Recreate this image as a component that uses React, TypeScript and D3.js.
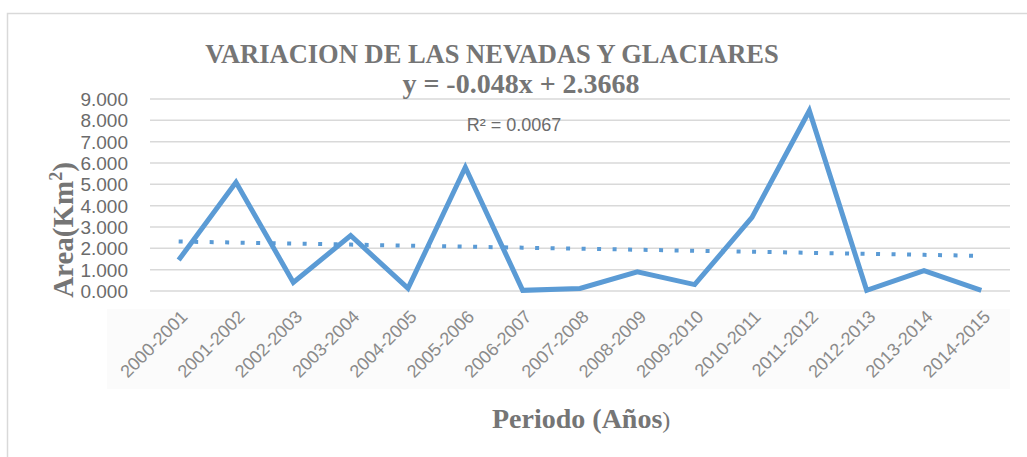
import React from "react";
import * as d3 from "d3";

const categories = [
  "2000-2001", "2001-2002", "2002-2003", "2003-2004", "2004-2005",
  "2005-2006", "2006-2007", "2007-2008", "2008-2009", "2009-2010",
  "2010-2011", "2011-2012", "2012-2013", "2013-2014", "2014-2015",
];
const areaValues = [1.45, 5.1, 0.4, 2.6, 0.12, 5.8, 0.03, 0.12, 0.9, 0.3, 3.45, 8.45, 0.03, 0.95, 0.03];
const yTicks = [0, 1, 2, 3, 4, 5, 6, 7, 8, 9];
const trendSlope = -0.048;
const trendIntercept = 2.3668;
const titleText = "VARIACION DE LAS NEVADAS Y GLACIARES";
const equationText = "y = -0.048x + 2.3668";
const r2Text = "R² = 0.0067";

const W = 1027;
const H = 457;
const plot = { left: 150, right: 1010, top: 99, bottom: 291 };
const BLUE = "#5B9BD5";
const GRID = "#D9D9D9";
const serif = "'Liberation Serif', 'Times New Roman', serif";
const sans = "'Liberation Sans', Arial, sans-serif";

export default function App() {
  const x = d3.scaleBand<string>().domain(categories).range([plot.left, plot.right]).padding(0);
  const y = d3.scaleLinear().domain([0, 9]).range([plot.bottom, plot.top]);
  const cx = (c: string) => (x(c) as number) + x.bandwidth() / 2;
  const fmt = d3.format(".3f");

  const line = d3
    .line<number>()
    .x((_, i) => cx(categories[i]))
    .y((d) => y(d));

  const trendVals = categories.map((_, i) => trendSlope * (i + 1) + trendIntercept);
  const trendLine = d3
    .line<number>()
    .x((_, i) => cx(categories[i]))
    .y((d) => y(d));

  return (
    <svg
      width={W}
      height={H}
      style={{ position: "absolute", left: 0, top: 0, background: "#fff" }}
    >
      <rect x={0} y={0} width={W} height={H} fill="#fff" />
      <rect x={7.5} y={13.5} width={W + 10} height={H + 10} fill="none" stroke={GRID} strokeWidth={1.5} />
      <rect x={107} y={309} width={903} height={80} fill="#fbfbfb" />

      {yTicks.map((t) => (
        <g key={t}>
          <line x1={plot.left} x2={plot.right} y1={y(t)} y2={y(t)} stroke={GRID} strokeWidth={1.5} />
          <text
            x={128}
            y={y(t)}
            dy="0.36em"
            textAnchor="end"
            fontFamily={sans}
            fontSize={19}
            fill="#6b6b6b"
          >
            {fmt(t)}
          </text>
        </g>
      ))}

      <path
        d={trendLine(trendVals) || ""}
        fill="none"
        stroke={BLUE}
        strokeWidth={4}
        strokeDasharray="4 11.5"
      />
      <path
        d={line(areaValues) || ""}
        fill="none"
        stroke={BLUE}
        strokeWidth={5}
        strokeLinejoin="miter"
      />

      {categories.map((c) => (
        <text
          key={c}
          transform={`translate(${cx(c) + 1},${309}) rotate(-45)`}
          textAnchor="end"
          dy="0.7em"
          fontFamily={sans}
          fontSize={18}
          fill="#8a8a8a"
        >
          {c}
        </text>
      ))}

      <text x={492} y={63} textAnchor="middle" fontFamily={serif} fontWeight="bold" fontSize={26.5} fill="#757575">
        {titleText}
      </text>
      <text x={521} y={93} textAnchor="middle" fontFamily={serif} fontWeight="bold" fontSize={28} fill="#757575">
        {equationText}
      </text>
      <text x={514} y={131} textAnchor="middle" fontFamily={sans} fontSize={18} fill="#6b6b6b">
        {r2Text}
      </text>

      <text
        transform={`translate(73,230) rotate(-90)`}
        textAnchor="middle"
        fontFamily={serif}
        fontWeight="bold"
        fontSize={29}
        fill="#757575"
      >
        Area(Km<tspan fontSize={18} dy={-11}>2</tspan>
        <tspan dy={11}>)</tspan>
      </text>

      <text x={492} y={428} fontFamily={serif} fontWeight="bold" fontSize={28} fill="#757575">
        Periodo (Años<tspan fontWeight="normal" fontSize={24}>)</tspan>
      </text>
    </svg>
  );
}
